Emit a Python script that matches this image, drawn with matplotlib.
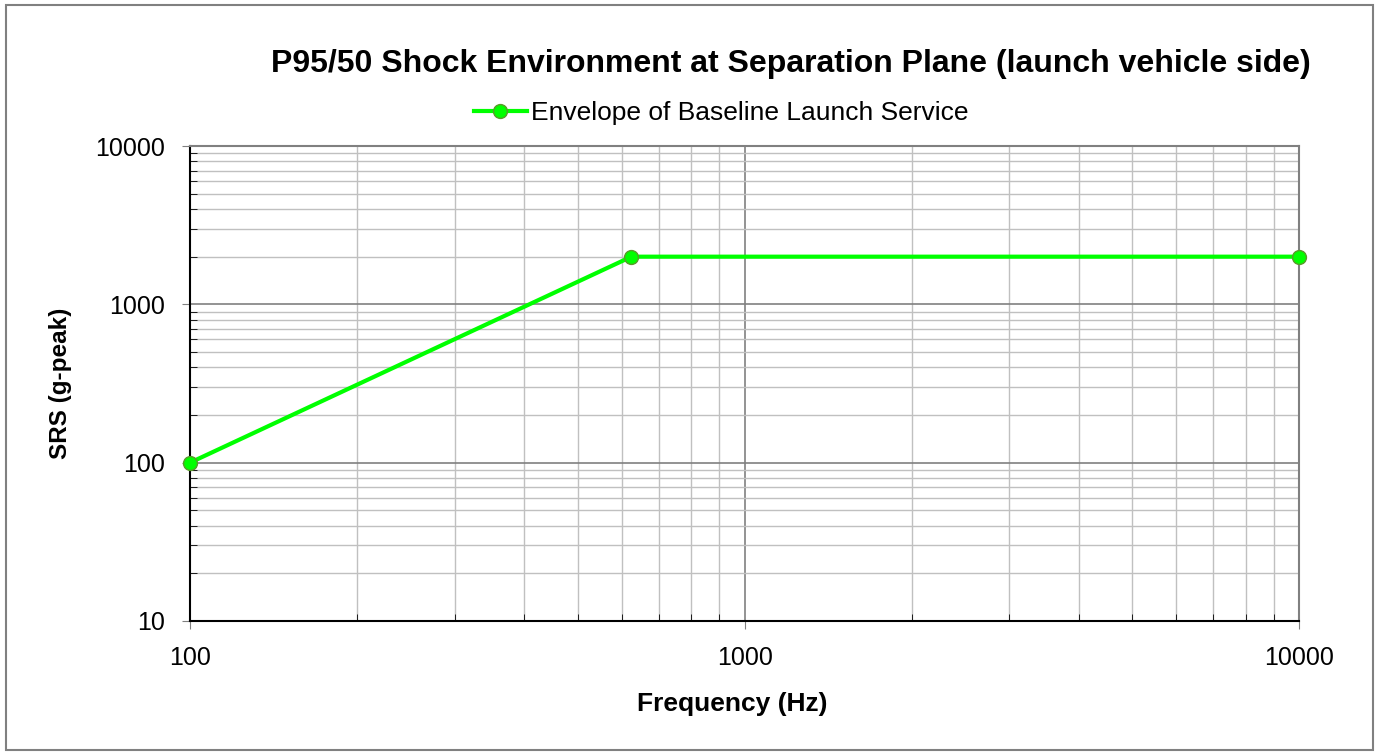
import matplotlib
matplotlib.use('Agg')
import matplotlib.pyplot as plt
from matplotlib.ticker import LogLocator, FixedLocator, NullFormatter
from matplotlib.patches import Rectangle

plt.rcParams['font.family'] = ['Liberation Sans', 'DejaVu Sans']

# Data
freq_hz = [100, 625, 10000]
srs_g = [100, 2000, 2000]
series_label = 'Envelope of Baseline Launch Service'

fig = plt.figure(figsize=(13.79, 7.55), dpi=100)
ax = fig.add_axes([0.1378, 0.1775, 0.8044, 0.6291])

ax.plot(freq_hz, srs_g, color='#00ff00', lw=3, marker='o', markersize=10,
        markerfacecolor='#00ff00', markeredgecolor='#5a9a2a', markeredgewidth=1,
        label=series_label, zorder=5, clip_on=False)

ax.set_xscale('log')
ax.set_yscale('log')
ax.set_xlim(100, 10000)
ax.set_ylim(10, 10000)

ax.xaxis.set_major_locator(FixedLocator([100, 1000, 10000]))
ax.yaxis.set_major_locator(FixedLocator([10, 100, 1000, 10000]))
ax.xaxis.set_minor_locator(LogLocator(base=10, subs=range(2, 10)))
ax.yaxis.set_minor_locator(LogLocator(base=10, subs=range(2, 10)))
ax.xaxis.set_minor_formatter(NullFormatter())
ax.yaxis.set_minor_formatter(NullFormatter())
ax.set_xticklabels(['100', '1000', '10000'])
ax.set_yticklabels(['10', '100', '1000', '10000'])

ax.grid(True, which='major', color='#808080', lw=1.2)
ax.grid(True, which='minor', color='#c0c0c0', lw=1.0)
ax.set_axisbelow(True)

ax.tick_params(axis='both', which='major', direction='out', length=6,
               labelsize=18, color='#808080')
ax.tick_params(axis='both', which='minor', direction='in', length=5, color='black')
ax.tick_params(axis='x', which='major', pad=12)
ax.tick_params(axis='y', which='major', pad=12)

ax.spines['left'].set_color('black')
ax.spines['bottom'].set_color('black')
ax.spines['left'].set_linewidth(1.5)
ax.spines['bottom'].set_linewidth(1.5)
ax.spines['top'].set_color('#808080')
ax.spines['right'].set_color('#808080')
ax.spines['top'].set_linewidth(1.5)
ax.spines['right'].set_linewidth(1.5)

ax.set_xlabel('Frequency (Hz)', fontsize=19, fontweight='bold', labelpad=16, x=0.489)
ax.set_ylabel('SRS (g-peak)', fontsize=17.5, fontweight='bold', labelpad=17)

fig.text(0.5736, 0.915, 'P95/50 Shock Environment at Separation Plane (launch vehicle side)',
         fontsize=23, fontweight='bold', ha='center', va='center')

ax.legend(loc='center', bbox_to_anchor=(0.523, 0.850), bbox_transform=fig.transFigure,
          frameon=False, fontsize=19, handlelength=2.0, handletextpad=0.15)

fig.patches.append(Rectangle((0.004, 0.006), 0.992, 0.988, transform=fig.transFigure,
                             fill=False, edgecolor='#808080', lw=1.5))

plt.savefig('out.png', dpi=100)
